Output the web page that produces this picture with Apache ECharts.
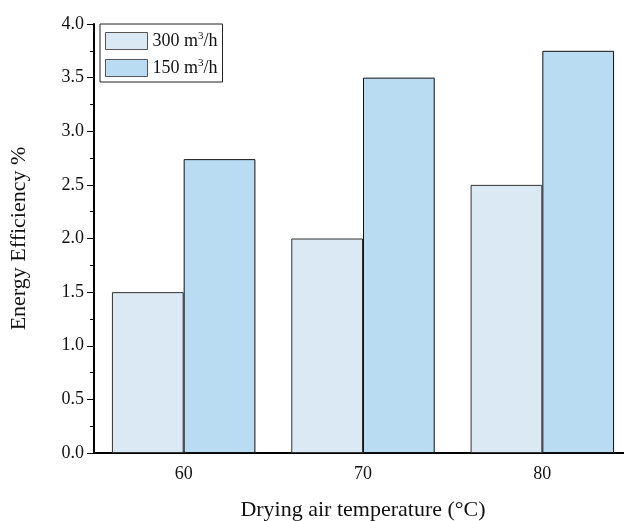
<!DOCTYPE html>
<html>
<head>
<meta charset="utf-8">
<script src="https://cdn.jsdelivr.net/npm/echarts@6/dist/echarts.min.js"></script>
<style>
    html, body { margin: 0; padding: 0; background: #fff; }
    #chart { width: 624px; height: 521px; }
</style>
</head>
<body>
<div id="chart"></div>
<script>
const categories = ['60', '70', '80'];
const flow300 = [1.5, 2.0, 2.5];
const flow150 = [2.74, 3.5, 3.75];
const yTicks = [0, 4, 0.5];

let FONT = 'Liberation Serif';
let chart = echarts.init(document.getElementById('chart'));

let option = {
    backgroundColor: '#fff',
    animation: false,
    textStyle: { fontFamily: FONT },
    legend: {
        left: 100,
        top: 24,
        orient: 'vertical',
        icon: 'rect',
        itemWidth: 42,
        itemHeight: 17,
        itemGap: 8,
        padding: [7, 5, 5, 5],
        borderColor: '#222',
        borderWidth: 1,
        itemStyle: { borderColor: '#555', borderWidth: 1 },
        formatter: function (name) {
            return name === 'a' ? '300 m{s|3}/h' : '150 m{s|3}/h';
        },
        textStyle: {
            fontFamily: FONT,
            fontSize: 18,
            color: '#111',
            rich: {
                s: { fontSize: 11, verticalAlign: 'top', padding: [0, 0, 9, 0], fontFamily: FONT, color: '#111' }
            }
        },
        data: ['a', 'b']
    },
    grid: {
        left: 94,
        right: -8,
        top: 24,
        bottom: 68,
        outerBoundsMode: 'none'
    },
    xAxis: [{
        type: 'category',
        data: categories,
        name: 'Drying air temperature (°C)',
        nameLocation: 'middle',
        nameGap: 46,
        nameTextStyle: { fontSize: 22, color: '#111', fontFamily: FONT },
        axisLine: { lineStyle: { color: '#000', width: 2 } },
        axisTick: { alignWithLabel: true, length: 7, lineStyle: { color: '#000', width: 1 } },
        axisLabel: { fontSize: 18, color: '#111', margin: 12, fontFamily: FONT },
        splitLine: { show: false }
    }, {
        type: 'category',
        data: categories,
        position: 'bottom',
        axisLine: { show: false },
        axisTick: { length: 4, lineStyle: { color: '#000', width: 1 } },
        axisLabel: { show: false },
        splitLine: { show: false }
    }],
    yAxis: {
        type: 'value',
        min: yTicks[0],
        max: yTicks[1],
        interval: yTicks[2],
        name: 'Energy Efficiency %',
        nameLocation: 'middle',
        nameGap: 64,
        nameTextStyle: { fontSize: 22, color: '#111', fontFamily: FONT },
        axisLine: { show: true, lineStyle: { color: '#000', width: 2 } },
        axisTick: { show: true, length: 7, lineStyle: { color: '#000', width: 1 } },
        minorTick: { show: true, splitNumber: 2, length: 4, lineStyle: { color: '#000', width: 1 } },
        axisLabel: {
            fontSize: 18,
            color: '#111',
            margin: 10,
            fontFamily: FONT,
            formatter: function (v) { return v.toFixed(1); }
        },
        splitLine: { show: false }
    },
    series: [{
        name: 'a',
        type: 'bar',
        data: flow300,
        barGap: '0%',
        barCategoryGap: '20%',
        itemStyle: { color: '#dae9f3', borderColor: '#333', borderWidth: 1 }
    }, {
        name: 'b',
        type: 'bar',
        data: flow150,
        itemStyle: { color: '#b9dcf2', borderColor: '#111', borderWidth: 1 }
    }]
};

chart.setOption(option);
</script>
</body>
</html>
